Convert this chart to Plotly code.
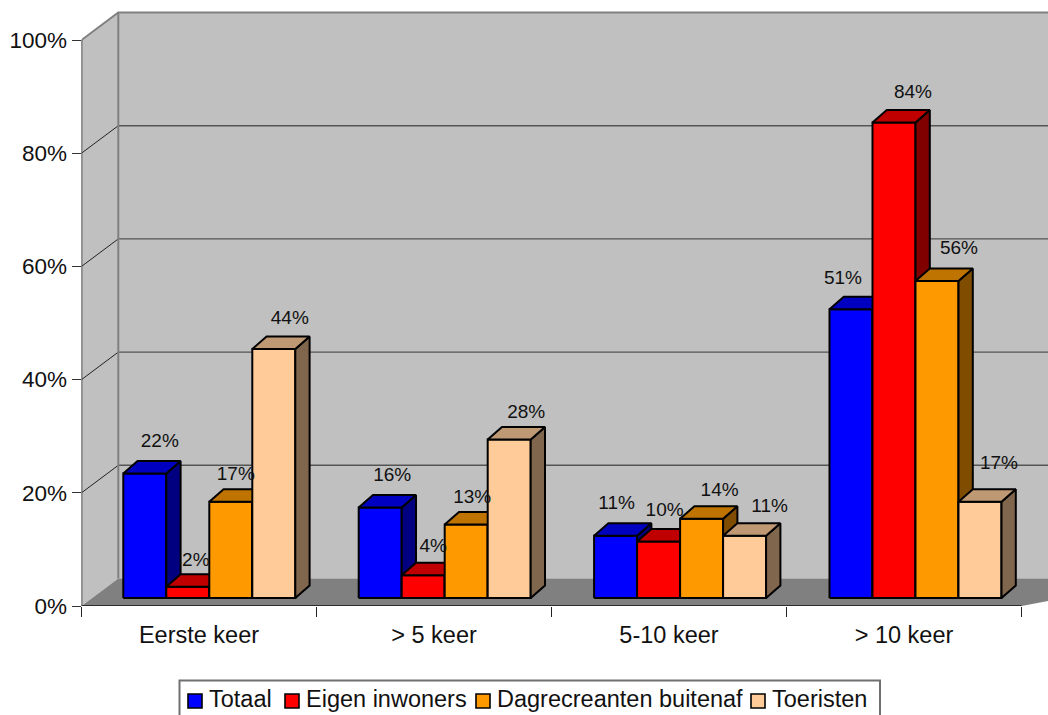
import plotly.graph_objects as go

categories = ["Eerste keer", "> 5 keer", "5-10 keer", "> 10 keer"]
series_names = ["Totaal", "Eigen inwoners", "Dagrecreanten buitenaf", "Toeristen"]
totaal = [22, 16, 11, 51]
eigen_inwoners = [2, 4, 10, 84]
dagrecreanten = [17, 13, 14, 56]
toeristen = [44, 28, 11, 17]
series_values = [totaal, eigen_inwoners, dagrecreanten, toeristen]
y_ticks = [0, 20, 40, 60, 80, 100]

W, H = 1048, 715
X0, Y0 = 81.5, 606        # pixel of the axis origin
PX_CAT, PX_VAL = 235, 5.66

def ux(px): return px / PX_CAT
def uy(px): return px / PX_VAL

FLOOR_DX, FLOOR_DY = ux(36.8), uy(27.5)
BAR_OX, BAR_OY = ux(8), uy(8)
BAR_DX, BAR_DY = ux(14.3), uy(12.5)
BAR_W = ux(43)
GROUP_START = ux(33.8)
GROUP_STEP = ux(235.4)

FRONT = ["#0000FF", "#FF0000", "#FF9900", "#FFCC99"]
TOP = ["#0000C0", "#C00000", "#BF7300", "#BF9973"]
SIDE = ["#000080", "#800000", "#804D00", "#80664D"]
WALL, FLOOR, EDGE, GRID = "#C0C0C0", "#808080", "#808080", "#555555"

x_max = (W - X0) / PX_CAT
y_max = Y0 / PX_VAL
fig = go.Figure()

def poly(xs, ys, fill, line="#000000", width=2):
    fig.add_trace(go.Scatter(
        x=xs + xs[:1], y=ys + ys[:1], mode="lines", fill="toself", fillcolor=fill,
        line=dict(color=line, width=width), hoverinfo="skip", showlegend=False))

def seg(xs, ys, color, width):
    fig.add_trace(go.Scatter(x=xs, y=ys, mode="lines", line=dict(color=color, width=width),
                             hoverinfo="skip", showlegend=False))

right = x_max + 0.5
top = y_ticks[-1]
# walls and floor
poly([FLOOR_DX, right, right, FLOOR_DX], [FLOOR_DY, FLOOR_DY, top + FLOOR_DY, top + FLOOR_DY], WALL, WALL, 0)
poly([0, FLOOR_DX, FLOOR_DX, 0], [0, FLOOR_DY, top + FLOOR_DY, top], WALL, WALL, 0)
poly([0, FLOOR_DX, right, len(categories)], [0, FLOOR_DY, FLOOR_DY, 0], FLOOR, FLOOR, 0)
# gridlines
for t in y_ticks[1:-1]:
    seg([0, FLOOR_DX], [t, t + FLOOR_DY], "#222222", 1)
    seg([FLOOR_DX, right], [t + FLOOR_DY, t + FLOOR_DY], GRID, 1.4)
seg([0, FLOOR_DX, right], [top, top + FLOOR_DY, top + FLOOR_DY], EDGE, 2)
seg([FLOOR_DX, FLOOR_DX], [FLOOR_DY, top + FLOOR_DY], EDGE, 2)

# bars
for c in range(len(categories)):
    for s in range(len(series_names)):
        v = series_values[s][c]
        x1 = c * GROUP_STEP + GROUP_START + s * BAR_W + BAR_OX
        x2 = x1 + BAR_W
        b, t = BAR_OY, v + BAR_OY
        poly([x1, x2, x2, x1], [b, b, t, t], FRONT[s])
        poly([x2, x2 + BAR_DX, x2 + BAR_DX, x2], [b, b + BAR_DY, t + BAR_DY, t], SIDE[s])
        poly([x1, x2, x2 + BAR_DX, x1 + BAR_DX], [t, t, t + BAR_DY, t + BAR_DY], TOP[s])

# axis lines
seg([0, 0], [0, top], "#333333", 1.6)
seg([0, len(categories)], [0, 0], "#111111", 1.6)

# data labels (manual nudges in pixels, one per category and series)
label_nudge_x = [[15, 8, 5, 16], [12, 10, 6, 17], [1, 6, 18, 25], [-8, 19, 22, 19]]
label_nudge_y = [[31.5, 25.5, 26.5, 29.5], [31.5, 28.5, 26.5, 26.5], [31.5, 30.5, 27.5, 28.5], [30.5, 29.5, 31.5, 37.5]]
lx, ly, lt = [], [], []
for c in range(len(categories)):
    for s in range(len(series_names)):
        v = series_values[s][c]
        lx.append(c * GROUP_STEP + GROUP_START + (s + 0.5) * BAR_W + BAR_OX + ux(label_nudge_x[c][s]))
        ly.append(v + BAR_OY + uy(label_nudge_y[c][s]))
        lt.append(f"{v}%")
fig.add_trace(go.Scatter(x=lx, y=ly, text=lt, mode="text", textposition="middle center",
                         textfont=dict(family="Liberation Sans", size=19, color="#111111"),
                         hoverinfo="skip", showlegend=False))

fig.update_layout(
    width=W, height=H, margin=dict(l=0, r=0, t=0, b=0, autoexpand=False), autosize=False,
    paper_bgcolor="white", plot_bgcolor="white", showlegend=False,
    font=dict(family="Liberation Sans", color="#111111"),
    xaxis=dict(domain=[X0 / W, 1], range=[0, x_max], showgrid=False, zeroline=False, showline=False,
               tickmode="array", tickvals=[i + 0.5 for i in range(len(categories))], ticktext=categories,
               ticks="", tickfont=dict(size=23.5), ticklabelstandoff=12,
               minor=dict(tickmode="array", tickvals=list(range(len(categories) + 1)),
                          ticks="outside", ticklen=10, tickcolor="#222222", tickwidth=1.4)),
    yaxis=dict(domain=[(H - Y0) / H, 1], range=[0, y_max], showgrid=False, zeroline=False, showline=False,
               tickmode="array", tickvals=y_ticks, ticktext=[f"{t}%" for t in y_ticks], ticks="outside", ticklen=9,
               tickcolor="#333333", tickwidth=1.4, tickfont=dict(size=22.5)),
)

# legend
def pxx(p): return p / W
def pxy(p): return 1 - p / H
fig.add_shape(type="rect", xref="paper", yref="paper", x0=pxx(179.5), x1=pxx(880), y0=pxy(760), y1=pxy(680.5),
              line=dict(color="#707070", width=2), fillcolor="white", layer="above")
swatch_x = [188, 285, 476, 751]
for s, name in enumerate(series_names):
    fig.add_shape(type="rect", xref="paper", yref="paper", x0=pxx(swatch_x[s]), x1=pxx(swatch_x[s] + 14),
                  y0=pxy(708), y1=pxy(694), line=dict(color="#000000", width=1.6), fillcolor=FRONT[s], layer="above")
    fig.add_annotation(xref="paper", yref="paper", x=pxx(swatch_x[s] + 18.5), y=pxy(698.5), text=name,
                       showarrow=False, xanchor="left", yanchor="middle",
                       font=dict(family="Liberation Sans", size=23.5, color="#111111"))

fig.write_html("out.html", config=dict(displayModeBar=False),
               post_script="document.body.style.margin='0';document.body.style.overflow='hidden';")
